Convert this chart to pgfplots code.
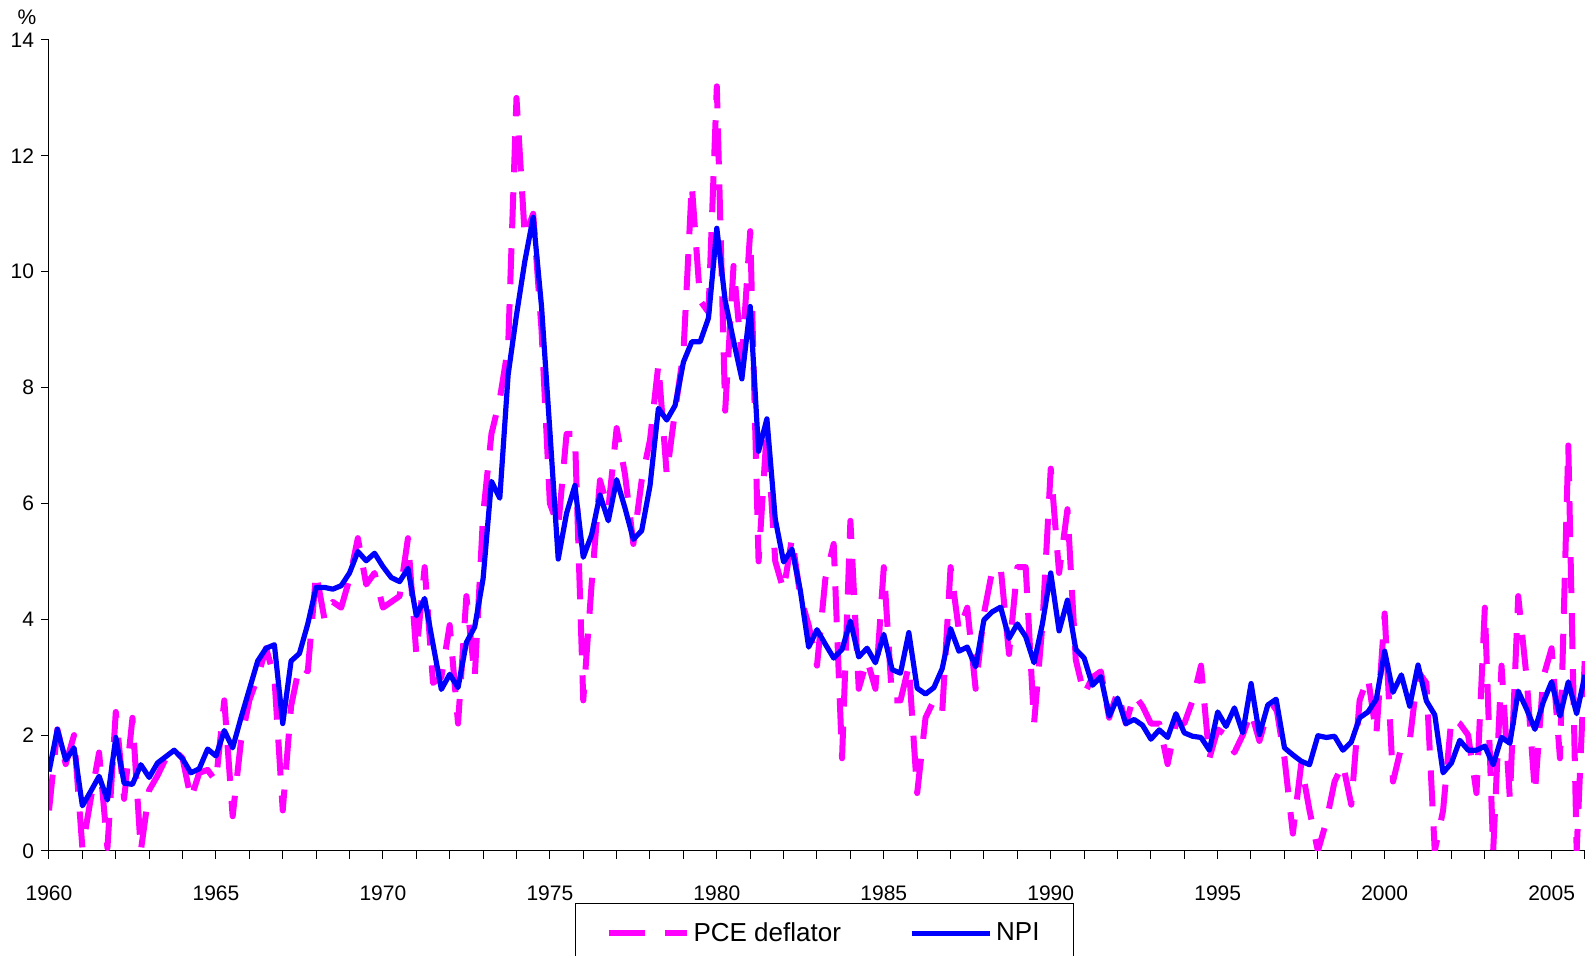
\documentclass[border=0pt]{standalone}
\usepackage{fontspec}
\setmainfont{Liberation Sans}
\usepackage{pgfplots}
\pgfplotsset{compat=1.18}
\usepackage{pgfplotstable}
\usetikzlibrary{calc}

\definecolor{pcecol}{RGB}{255,0,255}
\definecolor{npicol}{RGB}{0,0,255}

% quarterly growth rates, %
\pgfplotstableread{
t npi pce
1960.00 1.37 0.70
1960.25 2.10 2.10
1960.50 1.57 1.50
1960.75 1.78 2.00
1961.00 0.78 0.05
1961.25 1.03 0.90
1961.50 1.29 1.70
1961.75 0.88 0.05
1962.00 1.96 2.40
1962.25 1.17 0.90
1962.50 1.15 2.30
1962.75 1.49 0.00
1963.00 1.27 1.05
1963.25 1.52 1.30
1963.50 1.63 1.60
1963.75 1.74 1.75
1964.00 1.59 1.60
1964.25 1.35 0.90
1964.50 1.42 1.35
1964.75 1.76 1.40
1965.00 1.64 1.20
1965.25 2.08 2.60
1965.50 1.78 0.60
1965.75 2.30 1.90
1966.00 2.79 2.60
1966.25 3.28 3.00
1966.50 3.50 3.50
1966.75 3.56 3.00
1967.00 2.20 0.70
1967.25 3.28 2.50
1967.50 3.41 3.20
1967.75 3.92 3.10
1968.00 4.55 4.80
1968.25 4.55 4.00
1968.50 4.52 4.30
1968.75 4.58 4.20
1969.00 4.80 4.70
1969.25 5.17 5.40
1969.50 5.01 4.60
1969.75 5.14 4.80
1970.00 4.91 4.20
1970.25 4.72 4.30
1970.50 4.65 4.40
1970.75 4.88 5.40
1971.00 4.06 3.40
1971.25 4.36 4.90
1971.50 3.57 2.90
1971.75 2.79 3.00
1972.00 3.05 3.90
1972.25 2.82 2.20
1972.50 3.60 4.40
1972.75 3.87 3.00
1973.00 4.70 5.80
1973.25 6.38 7.20
1973.50 6.09 7.80
1973.75 8.22 8.70
1974.00 9.25 13.00
1974.25 10.18 10.60
1974.50 10.94 11.00
1974.75 9.40 9.00
1975.00 7.25 6.00
1975.25 5.04 5.60
1975.50 5.83 7.20
1975.75 6.31 7.20
1976.00 5.07 2.60
1976.25 5.46 4.60
1976.50 6.15 6.40
1976.75 5.70 5.90
1977.00 6.41 7.30
1977.25 5.92 6.50
1977.50 5.38 5.30
1977.75 5.53 6.40
1978.00 6.31 7.10
1978.25 7.64 8.40
1978.50 7.44 6.50
1978.75 7.69 7.60
1979.00 8.44 8.60
1979.25 8.79 11.50
1979.50 8.79 9.50
1979.75 9.20 9.30
1980.00 10.75 13.20
1980.25 9.50 7.60
1980.50 8.81 10.10
1980.75 8.15 8.50
1981.00 9.40 10.70
1981.25 6.90 5.00
1981.50 7.46 7.30
1981.75 5.73 5.00
1982.00 4.99 4.50
1982.25 5.21 5.40
1982.50 4.50 4.40
1982.75 3.52 3.90
1983.00 3.82 3.20
1983.25 3.57 4.70
1983.50 3.33 5.30
1983.75 3.48 1.60
1984.00 3.97 5.70
1984.25 3.35 2.80
1984.50 3.50 3.30
1984.75 3.25 2.80
1985.00 3.74 4.90
1985.25 3.13 2.60
1985.50 3.07 2.60
1985.75 3.77 3.20
1986.00 2.81 1.00
1986.25 2.71 2.30
1986.50 2.82 2.60
1986.75 3.15 2.40
1987.00 3.84 4.90
1987.25 3.45 3.80
1987.50 3.52 4.20
1987.75 3.18 2.80
1988.00 3.99 4.10
1988.25 4.13 4.85
1988.50 4.21 4.90
1988.75 3.67 3.40
1989.00 3.92 4.90
1989.25 3.70 4.90
1989.50 3.25 2.20
1989.75 3.92 3.90
1990.00 4.80 6.60
1990.25 3.80 4.80
1990.50 4.33 5.90
1990.75 3.48 3.30
1991.00 3.33 2.70
1991.25 2.86 3.00
1991.50 3.01 3.10
1991.75 2.33 2.30
1992.00 2.64 2.75
1992.25 2.20 2.20
1992.50 2.27 2.70
1992.75 2.17 2.50
1993.00 1.93 2.20
1993.25 2.09 2.20
1993.50 1.96 1.50
1993.75 2.37 2.20
1994.00 2.04 2.20
1994.25 1.98 2.60
1994.50 1.96 3.20
1994.75 1.74 1.60
1995.00 2.40 2.10
1995.25 2.15 2.00
1995.50 2.47 1.70
1995.75 2.04 2.00
1996.00 2.89 2.40
1996.25 2.01 1.90
1996.50 2.52 2.40
1996.75 2.62 2.50
1997.00 1.78 1.60
1997.25 1.66 0.30
1997.50 1.55 1.50
1997.75 1.49 0.70
1998.00 1.99 0.00
1998.25 1.96 0.50
1998.50 1.98 1.20
1998.75 1.74 1.50
1999.00 1.88 0.80
1999.25 2.30 2.60
1999.50 2.40 3.00
1999.75 2.62 2.00
2000.00 3.45 4.10
2000.25 2.74 1.20
2000.50 3.04 1.80
2000.75 2.50 1.90
2001.00 3.21 3.10
2001.25 2.59 2.90
2001.50 2.35 0.00
2001.75 1.35 0.70
2002.00 1.52 2.30
2002.25 1.91 2.20
2002.50 1.74 2.00
2002.75 1.74 1.00
2003.00 1.81 4.20
2003.25 1.49 0.00
2003.50 1.96 3.20
2003.75 1.86 0.90
2004.00 2.76 4.40
2004.25 2.45 3.00
2004.50 2.10 1.00
2004.75 2.57 3.00
2005.00 2.92 3.50
2005.25 2.33 1.60
2005.50 2.92 7.00
2005.75 2.37 0.00
2006.00 3.04 3.40
}\datatable

\begin{document}
\begin{tikzpicture}
\begin{axis}[
  name=ax, at={(0,0)}, anchor=south west,
  width=768pt, height=405.5pt, scale only axis,
  xmin=1960, xmax=2006, ymin=0, ymax=14,
  enlargelimits=false,
  axis lines=left, axis line style={-, line width=0.5pt},
  tick align=outside, tick style={black, line width=0.5pt},
  major tick length=4pt, minor tick length=4pt,
  xtick={1960,1965,...,2005},
  minor xtick={1960,...,2006},
  ytick={0,2,...,14},
  tick label style={font=\fontsize{10.5}{12}\selectfont},
  /pgf/number format/assume math mode=true,
  xticklabel style={/pgf/number format/1000 sep={}, yshift=-10pt},
  legend columns=2,
  legend cell align=left,
  legend image code/.code={\draw[#1] (0pt,0pt) -- (39pt,0pt);},
  legend style={at={(axis description cs:0.3425,-0.0642)}, anchor=north west,
    draw=black, line width=0.5pt, inner xsep=15pt, inner ysep=7.5pt,
    font=\fontsize{13}{15}\selectfont,
    /tikz/every even column/.append style={column sep=32pt}},
]
\addplot[pcecol, line width=3pt, dash pattern=on 18pt off 10pt, line join=round]
  table[x=t, y=pce] {\datatable};
\addlegendentry{PCE deflator}
\addplot[npicol, line width=2.6pt, line join=round]
  table[x=t, y=npi] {\datatable};
\addlegendentry{NPI}
\end{axis}
\node[font=\fontsize{10.5}{12}\selectfont] at ($(ax.north west)+(-11pt,11.5pt)$) {\%};
\pgfresetboundingbox
\useasboundingbox ($(ax.south west)+(-24.5pt,-52.5pt)$) rectangle ($(ax.north east)+(0pt,20pt)$);
\end{tikzpicture}
\end{document}
